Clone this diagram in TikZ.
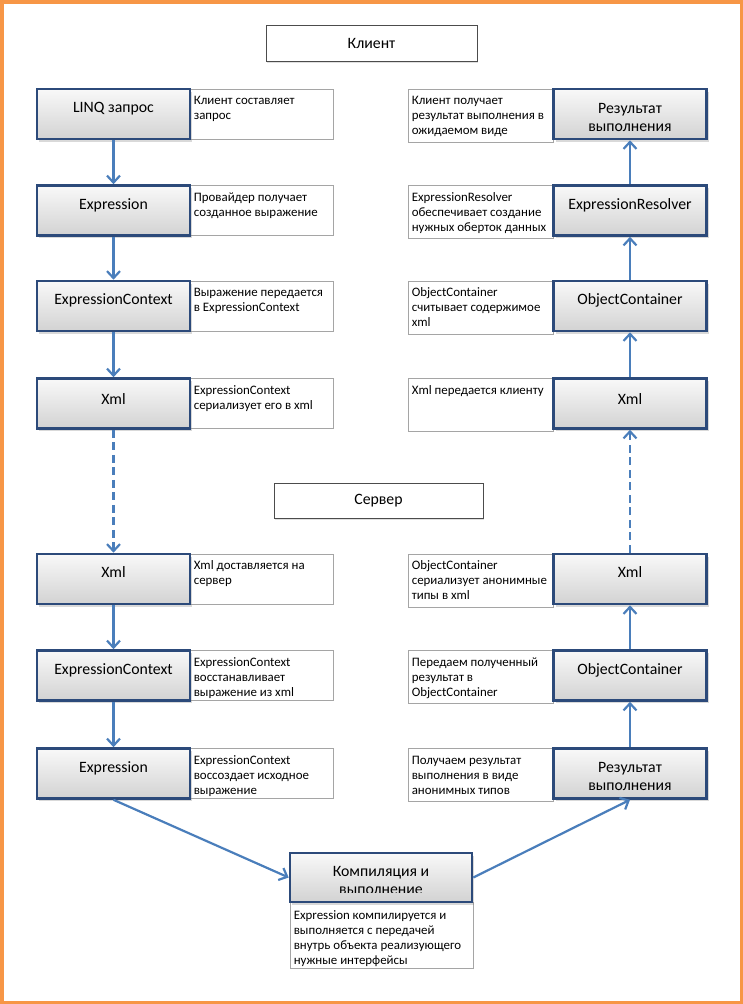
\documentclass[tikz,border=0pt]{standalone}
\usepackage{fontspec}
\setmainfont{Carlito}
\usetikzlibrary{arrows.meta,shadows}
\definecolor{frameor}{HTML}{F79646}
\definecolor{boxblue}{RGB}{44,74,122}
\definecolor{arrblue}{HTML}{4A7EBB}
\definecolor{notegray}{RGB}{165,165,165}
\begin{document}
\begin{tikzpicture}[x=1pt,y=-1pt,
  frame/.style={draw=frameor,line width=3.5pt},
  stepbox/.style={draw=boxblue,line width=2.6pt,top color=gray!5,bottom color=gray!35,
    drop shadow={shadow xshift=2pt,shadow yshift=-2.5pt,opacity=0.3,fill=gray},
    minimum width=153pt,minimum height=50pt,inner sep=0pt,
    font=\fontsize{15.8}{18}\selectfont,align=center},
  oneline/.style={text height=11pt,text depth=14pt},
  lowline/.style={text height=11pt,text depth=9pt},
  notebox/.style={draw=notegray,line width=0.8pt,fill=white,inner sep=0pt},
  lnote/.style={notebox,minimum width=143pt,minimum height=50pt},
  rnote/.style={notebox,minimum width=145pt,minimum height=53pt},
  ntext/.style={anchor=north west,inner sep=0pt,align=left,font=\fontsize{12.9}{15}\selectfont},
  hdr/.style={draw=black!70,line width=0.8pt,fill=white,
    drop shadow={shadow xshift=1pt,shadow yshift=-1.5pt,opacity=0.25,fill=gray},
    inner sep=0pt,font=\fontsize{15.8}{18}\selectfont},
  arr/.style={draw=arrblue,line width=2.2pt,-{Straight Barb[length=7pt,width=13pt]}},
  dasharr/.style={arr,dash pattern=on 8pt off 4.5pt}]
\useasboundingbox (0,0) rectangle (743,1004);
\draw[frame] (1.75,1.75) rectangle (741.25,1002.25);

% headers
\node[hdr,minimum width=211pt,minimum height=36pt] (client) at (371.5,43) {Клиент};
\node[hdr,minimum width=209pt,minimum height=35pt] (server) at (378.5,500.5) {Сервер};

% left notes
\node[lnote] (nL1) at (261.5,114) {};
\node[lnote] (nL2) at (261.5,210.5) {};
\node[lnote] (nL3) at (261.5,306) {};
\node[lnote] (nL4) at (261.5,403.5) {};
\node[lnote] (nL5) at (261.5,579) {};
\node[lnote] (nL6) at (261.5,675.5) {};
\node[lnote] (nL7) at (261.5,773.5) {};
\node[ntext] (tL1) at ([xshift=4pt,yshift=-4pt]nL1.north west) {\rule{0pt}{12pt}Клиент составляет\\запрос};
\node[ntext] (tL2) at ([xshift=4pt,yshift=-4pt]nL2.north west) {\rule{0pt}{12pt}Провайдер получает\\созданное выражение};
\node[ntext] (tL3) at ([xshift=4pt,yshift=-4pt]nL3.north west) {\rule{0pt}{12pt}Выражение передается\\в ExpressionContext};
\node[ntext] (tL4) at ([xshift=4pt,yshift=-4pt]nL4.north west) {\rule{0pt}{12pt}ExpressionContext\\сериализует его в xml};
\node[ntext] (tL5) at ([xshift=4pt,yshift=-4pt]nL5.north west) {\rule{0pt}{12pt}Xml доставляется на\\сервер};
\node[ntext] (tL6) at ([xshift=4pt,yshift=-4pt]nL6.north west) {\rule{0pt}{12pt}ExpressionContext\\восстанавливает\\выражение из xml};
\node[ntext] (tL7) at ([xshift=4pt,yshift=-4pt]nL7.north west) {\rule{0pt}{12pt}ExpressionContext\\воссоздает исходное\\выражение};

% right notes
\node[rnote] (nR1) at (480.5,115.5) {};
\node[rnote] (nR2) at (480.5,212) {};
\node[rnote] (nR3) at (480.5,307.5) {};
\node[rnote] (nR4) at (480.5,405) {};
\node[rnote] (nR5) at (480.5,580.5) {};
\node[rnote] (nR6) at (480.5,677) {};
\node[rnote] (nR7) at (480.5,775) {};
\node[ntext] (tR1) at ([xshift=4pt,yshift=-4pt]nR1.north west) {\rule{0pt}{12pt}Клиент получает\\результат выполнения в\\ожидаемом виде};
\node[ntext] (tR2) at ([xshift=4pt,yshift=-4pt]nR2.north west) {\rule{0pt}{12pt}ExpressionResolver\\обеспечивает создание\\нужных оберток данных};
\node[ntext] (tR3) at ([xshift=4pt,yshift=-4pt]nR3.north west) {\rule{0pt}{12pt}ObjectContainer\\считывает содержимое\\xml};
\node[ntext] (tR4) at ([xshift=4pt,yshift=-4pt]nR4.north west) {\rule{0pt}{12pt}Xml передается клиенту};
\node[ntext] (tR5) at ([xshift=4pt,yshift=-4pt]nR5.north west) {\rule{0pt}{12pt}ObjectContainer\\сериализует анонимные\\типы в xml};
\node[ntext] (tR6) at ([xshift=4pt,yshift=-4pt]nR6.north west) {\rule{0pt}{12pt}Передаем полученный\\результат в\\ObjectContainer};
\node[ntext] (tR7) at ([xshift=4pt,yshift=-4pt]nR7.north west) {\rule{0pt}{12pt}Получаем результат\\выполнения в виде\\анонимных типов};

% left steps
\node[stepbox,oneline] (l1) at (113.5,114) {LINQ запрос};
\node[stepbox,oneline] (l2) at (113.5,210.5) {Expression};
\node[stepbox,oneline] (l3) at (113.5,306) {ExpressionContext};
\node[stepbox,lowline] (l4) at (113.5,403.5) {Xml};
\node[stepbox,oneline] (l5) at (113.5,579) {Xml};
\node[stepbox,oneline] (l6) at (113.5,675.5) {ExpressionContext};
\node[stepbox,oneline] (l7) at (113.5,773.5) {Expression};

% right steps
\node[stepbox] (r1) at (630,114) {\rule{0pt}{17pt}Результат\\выполнения};
\node[stepbox,oneline] (r2) at (630,210.5) {ExpressionResolver};
\node[stepbox,oneline] (r3) at (630,306) {ObjectContainer};
\node[stepbox,lowline] (r4) at (630,403.5) {Xml};
\node[stepbox,oneline] (r5) at (630,579) {Xml};
\node[stepbox,oneline] (r6) at (630,675.5) {ObjectContainer};
\node[stepbox] (r7) at (630,773.5) {\rule{0pt}{17pt}Результат\\выполнения};

% compile
\node[notebox,minimum width=183pt,minimum height=66pt] (compN) at (381.5,935) {};
\node[ntext] (compT) at ([xshift=4pt,yshift=-6pt]compN.north west) {\rule{0pt}{12pt}Expression компилируется и\\выполняется с передачей\\внутрь объекта реализующего\\нужные интерфейсы};
\node[stepbox,minimum width=182pt,minimum height=49pt] (comp) at (381,877.5) {};
\begin{scope}
\clip (290,855) rectangle (472,892.5);
\node[anchor=north,align=center,inner sep=0pt,font=\fontsize{15.8}{18}\selectfont] (compL) at (381,865.5) {\rule{0pt}{11pt}Компиляция и\\выполнение};
\end{scope}

% arrows
\draw[arr] (l1) -- (l2);
\draw[arr] (l2) -- (l3);
\draw[arr] (l3) -- (l4);
\draw[dasharr] (l4) -- (l5);
\draw[arr] (l5) -- (l6);
\draw[arr] (l6) -- (l7);
\draw[arr] (l7.south) -- (comp.west);
\draw[arr] (comp.east) -- (r7.south);
\draw[arr] (r7) -- (r6);
\draw[arr] (r6) -- (r5);
\draw[dasharr] (r5) -- (r4);
\draw[arr] (r4) -- (r3);
\draw[arr] (r3) -- (r2);
\draw[arr] (r2) -- (r1);
\end{tikzpicture}
\end{document}
